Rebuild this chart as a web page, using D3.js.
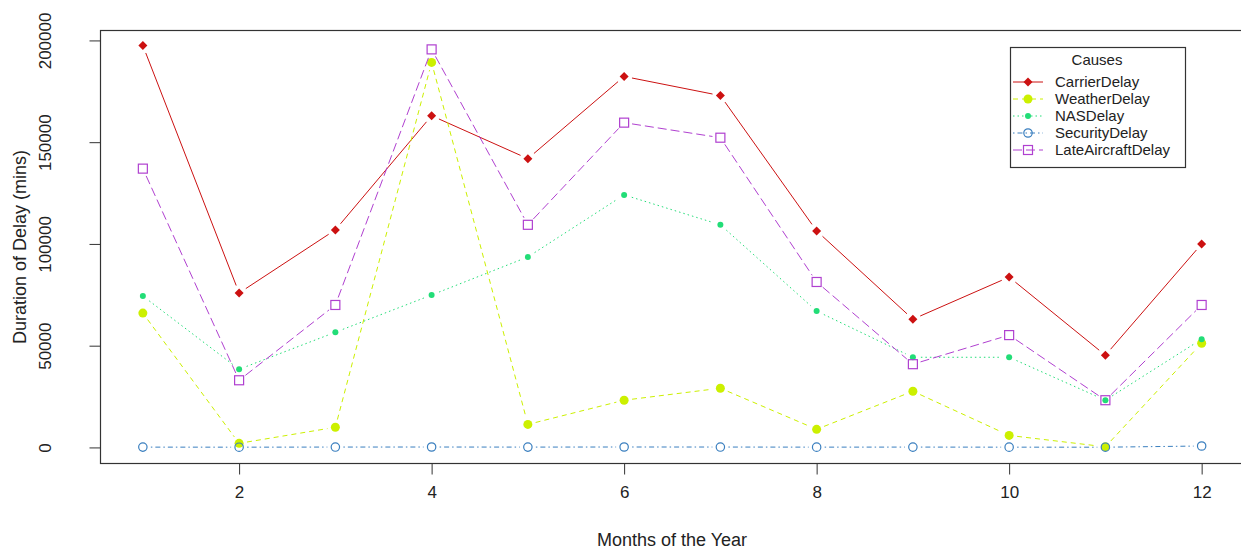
<!DOCTYPE html>
<html>
<head>
<meta charset="utf-8">
<script src="https://cdn.jsdelivr.net/npm/d3@7.9.0/dist/d3.min.js"></script>
<style>
  body { margin: 0; background: #fff; }
  svg { font-family: "Liberation Sans", Arial, sans-serif; }
</style>
</head>
<body>
<svg id="chart" width="1241" height="551"></svg>
<script>
const months = [1, 2, 3, 4, 5, 6, 7, 8, 9, 10, 11, 12];
const carrierDelay = [197500, 75900, 106900, 163000, 141900, 182300, 172900, 106400, 63000, 83700, 45300, 100000];
const weatherDelay = [66000, 2000, 9900, 189200, 11300, 23200, 29100, 8900, 27600, 5900, 300, 51200];
const nasDelay = [74400, 38400, 56600, 74900, 93600, 124100, 109400, 67000, 44300, 44300, 23200, 53200];
const securityDelay = [150, 120, 180, 200, 160, 210, 190, 140, 170, 130, 110, 700];
const lateAircraftDelay = [137000, 33000, 70000, 195600, 109400, 159600, 152200, 81300, 40900, 55200, 23200, 70000];
const xTicks = [2, 4, 6, 8, 10, 12];
const yTicks = [0, 50000, 100000, 150000, 200000];

const series = [
  { name: 'CarrierDelay', values: carrierDelay, color: '#cc1111', dash: null, pch: 'diamond' },
  { name: 'WeatherDelay', values: weatherDelay, color: '#ccf000', dash: '5,4', pch: 'circle' },
  { name: 'NASDelay', values: nasDelay, color: '#22dd77', dash: '1.5,3', pch: 'dot' },
  { name: 'SecurityDelay', values: securityDelay, color: '#3a7fbf', dash: '1.5,3,5,3', pch: 'open' },
  { name: 'LateAircraftDelay', values: lateAircraftDelay, color: '#b040d0', dash: '9,4', pch: 'square' }
];

const svg = d3.select('#chart');
const plotLeft = 100.5, plotTop = 30.5, plotBottom = 463.5;

// R style: ranges extended by 4%
const x = d3.scaleLinear().domain([0.56, 12.44]).range([plotLeft, 1244]);
const y = d3.scaleLinear().domain([-7900, 204880]).range([plotBottom, plotTop]);

// box
svg.append('rect')
  .attr('x', plotLeft).attr('y', plotTop)
  .attr('width', 1260 - plotLeft).attr('height', plotBottom - plotTop)
  .attr('fill', 'none').attr('stroke', '#333').attr('stroke-width', 1.2);

// y axis
const yAxis = svg.append('g').attr('transform', `translate(${plotLeft},0)`)
  .call(d3.axisLeft(y).tickValues(yTicks).tickSize(11).tickFormat(d3.format('d')));
yAxis.select('.domain').remove();
yAxis.selectAll('line').attr('stroke', '#333');
yAxis.selectAll('text')
  .attr('font-size', 17).attr('fill', '#222')
  .attr('text-anchor', 'middle').attr('dy', null).attr('x', null)
  .attr('transform', 'translate(-50,0) rotate(-90)');

// x axis
const xAxis = svg.append('g').attr('transform', `translate(0,${plotBottom})`)
  .call(d3.axisBottom(x).tickValues(xTicks).tickSize(11));
xAxis.select('.domain').remove();
xAxis.selectAll('line').attr('stroke', '#333');
xAxis.selectAll('text').attr('font-size', 17).attr('fill', '#222').attr('y', 22);

svg.append('text')
  .attr('x', 672).attr('y', 546)
  .attr('text-anchor', 'middle').attr('font-size', 18).attr('fill', '#222')
  .text('Months of the Year');
svg.append('text')
  .attr('transform', 'translate(26,247) rotate(-90)')
  .attr('text-anchor', 'middle').attr('font-size', 18).attr('fill', '#222')
  .text('Duration of Delay (mins)');

function drawPoint(g, kind, color, cx, cy) {
  if (kind === 'diamond') {
    g.append('path').attr('d', `M${cx},${cy - 4.5}L${cx + 4.5},${cy}L${cx},${cy + 4.5}L${cx - 4.5},${cy}Z`).attr('fill', color);
  } else if (kind === 'circle') {
    g.append('circle').attr('cx', cx).attr('cy', cy).attr('r', 4.5).attr('fill', color);
  } else if (kind === 'dot') {
    g.append('circle').attr('cx', cx).attr('cy', cy).attr('r', 3).attr('fill', color);
  } else if (kind === 'open') {
    g.append('circle').attr('cx', cx).attr('cy', cy).attr('r', 4.2).attr('fill', 'none').attr('stroke', color).attr('stroke-width', 1.2);
  } else if (kind === 'square') {
    g.append('rect').attr('x', cx - 4.5).attr('y', cy - 4.5).attr('width', 9).attr('height', 9)
      .attr('fill', 'none').attr('stroke', color).attr('stroke-width', 1.2);
  }
}

const gap = 8;
series.forEach(s => {
  const g = svg.append('g');
  const pts = months.map((m, i) => [x(m), y(s.values[i])]);
  for (let i = 0; i < pts.length - 1; i++) {
    const [x0, y0] = pts[i], [x1, y1] = pts[i + 1];
    const len = Math.hypot(x1 - x0, y1 - y0);
    if (len <= 2 * gap) continue;
    const ux = (x1 - x0) / len, uy = (y1 - y0) / len;
    g.append('line')
      .attr('x1', x0 + ux * gap).attr('y1', y0 + uy * gap)
      .attr('x2', x1 - ux * gap).attr('y2', y1 - uy * gap)
      .attr('stroke', s.color).attr('stroke-width', 1)
      .attr('stroke-dasharray', s.dash);
  }
  pts.forEach(([cx, cy]) => drawPoint(g, s.pch, s.color, cx, cy));
});

// legend
const lg = svg.append('g');
lg.append('rect').attr('x', 1010.5).attr('y', 47.5).attr('width', 175).attr('height', 120)
  .attr('fill', '#fff').attr('stroke', '#333').attr('stroke-width', 1.2);
lg.append('text').attr('x', 1097).attr('y', 65).attr('text-anchor', 'middle')
  .attr('font-size', 15).attr('fill', '#222').text('Causes');
series.forEach((s, i) => {
  const yy = 82 + i * 17;
  lg.append('line').attr('x1', 1013).attr('x2', 1043).attr('y1', yy).attr('y2', yy)
    .attr('stroke', s.color).attr('stroke-width', 1).attr('stroke-dasharray', s.dash);
  drawPoint(lg, s.pch, s.color, 1028, yy);
  lg.append('text').attr('x', 1055).attr('y', yy + 5).attr('font-size', 15).attr('fill', '#222').text(s.name);
});
</script>
</body>
</html>
